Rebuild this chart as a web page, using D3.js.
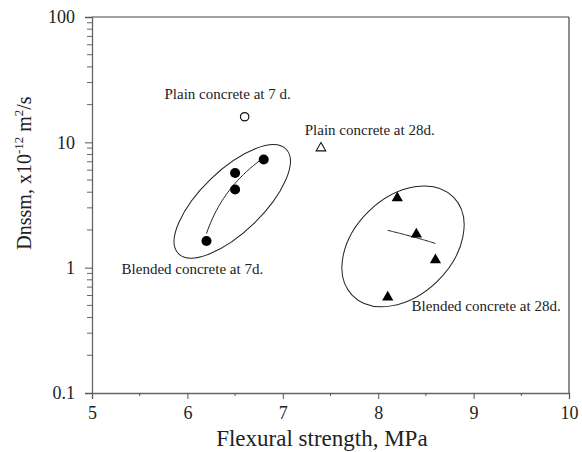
<!DOCTYPE html>
<html>
<head>
<meta charset="utf-8">
<script src="https://cdn.jsdelivr.net/npm/d3@7"></script>
<style>
  body { margin: 0; background: #fff; }
  text { font-family: "Liberation Serif", "Times New Roman", serif; fill: #222; }
</style>
</head>
<body>
<div id="chart"></div>
<script>
// flexural strength (MPa) vs Dnssm (x10^-12 m2/s)
var plain7_x = [6.6],  plain7_y = [16];
var plain28_x = [7.4], plain28_y = [9.0];
var blend7_x = [6.2, 6.5, 6.5, 6.8],  blend7_y = [1.63, 4.2, 5.7, 7.3];
var blend28_x = [8.1, 8.2, 8.4, 8.6], blend28_y = [0.58, 3.6, 1.85, 1.15];

var x_ticks = [5, 6, 7, 8, 9, 10];
var y_ticks = [0.1, 1, 10, 100];

// group outlines: centre in data units
var ellipse_cx = [6.47, 8.26];
var ellipse_cy = [3.38, 1.48];

var labels = ["Plain concrete at 7 d.", "Plain concrete at 28d.", "Blended concrete at 7d.", "Blended concrete at 28d."];
var label_x = [5.76, 7.23, 5.31, 8.35];
var label_y = [22.2, 11.5, 0.89, 0.453];

var width = 582, height = 452,
    margin = {top: 17, right: 13, bottom: 59, left: 92};

var svg = d3.select("#chart").append("svg")
    .attr("width", width)
    .attr("height", height);

var x = d3.scaleLinear().domain([5, 10]).range([margin.left, width - margin.right]);
var y = d3.scaleLog().domain([0.1, 100]).range([height - margin.bottom, margin.top]);

// frame
svg.append("line").attr("x1", x(5)).attr("x2", x(10)).attr("y1", y(100)).attr("y2", y(100))
  .attr("stroke", "#444").attr("stroke-width", 1.2);
svg.append("line").attr("x1", x(10)).attr("x2", x(10)).attr("y1", y(100)).attr("y2", y(0.1))
  .attr("stroke", "#444").attr("stroke-width", 1.2);

// minor ticks
var x_minor = d3.range(5.5, 10, 1);
var y_minor = [];
[0.1, 1, 10].forEach(function(d) { for (var k = 2; k <= 9; k++) y_minor.push(d * k); });

var xAxis = svg.append("g")
  .attr("transform", "translate(0," + y(0.1) + ")")
  .call(d3.axisBottom(x).tickValues(x_ticks).tickSize(6).tickPadding(7).tickFormat(d3.format("d")));
xAxis.selectAll(".minor").data(x_minor)
  .enter().append("line").attr("class", "minor")
  .attr("x1", function(d) { return x(d); }).attr("x2", function(d) { return x(d); })
  .attr("y1", 0).attr("y2", 3).attr("stroke", "#555");

var yAxis = svg.append("g")
  .attr("transform", "translate(" + x(5) + ",0)")
  .call(d3.axisLeft(y).tickValues(y_ticks).tickSize(7).tickPadding(10).tickFormat(function(d) { return d < 1 ? "0.1" : d3.format("d")(d); }));
yAxis.selectAll(".minorY").data(y_minor)
  .enter().append("line").attr("class", "minorY")
  .attr("x1", -5).attr("x2", 0)
  .attr("y1", function(d) { return y(d); }).attr("y2", function(d) { return y(d); })
  .attr("stroke", "#666");

[xAxis, yAxis].forEach(function(g) {
  g.select(".domain").attr("stroke", "#666").attr("stroke-width", 1.3);
  g.selectAll(".tick line").attr("stroke", "#555");
  g.selectAll(".tick text").style("font-family", "Liberation Serif, serif").style("font-size", "18px").attr("fill", "#222");
});

// least-squares lines of the two blended groups
function fit(xs, ys) {
  var mx = d3.mean(xs), my = d3.mean(ys);
  var sxy = d3.sum(xs, function(v, i) { return (v - mx) * (ys[i] - my); });
  var sxx = d3.sum(xs, function(v) { return (v - mx) * (v - mx); });
  var b = sxy / sxx;
  return function(v) { return my + b * (v - mx); };
}
var line = d3.line().x(function(d) { return x(d[0]); }).y(function(d) { return y(d[1]); });
[[blend7_x, blend7_y], [blend28_x, blend28_y]].forEach(function(s) {
  var f = fit(s[0], s[1]);
  var ext = d3.extent(s[0]);
  var pts = d3.range(0, 41).map(function(i) { var v = ext[0] + (ext[1] - ext[0]) * i / 40; return [v, f(v)]; });
  svg.append("path").attr("d", line(pts)).attr("fill", "none").attr("stroke", "#222").attr("stroke-width", 1);
});

// ellipses around groups (pixel radii)
var ell = [{rx: 75, ry: 31, rot: -44}, {rx: 70.5, ry: 49, rot: -44}];
ell.forEach(function(e, i) {
  svg.append("ellipse")
    .attr("transform", "translate(" + x(ellipse_cx[i]) + "," + y(ellipse_cy[i]) + ") rotate(" + e.rot + ")")
    .attr("rx", e.rx).attr("ry", e.ry)
    .attr("fill", "none").attr("stroke", "#222").attr("stroke-width", 1);
});

// markers
var tri = d3.symbol().type(d3.symbolTriangle).size(55);
svg.selectAll(".p7").data(plain7_x).enter().append("circle")
  .attr("cx", function(d) { return x(d); }).attr("cy", function(d, i) { return y(plain7_y[i]); })
  .attr("r", 4.2).attr("fill", "#fff").attr("stroke", "#111").attr("stroke-width", 1.2);
svg.selectAll(".p28").data(plain28_x).enter().append("path")
  .attr("d", d3.symbol().type(d3.symbolTriangle).size(40))
  .attr("transform", function(d, i) { return "translate(" + x(d) + "," + y(plain28_y[i]) + ")"; })
  .attr("fill", "#fff").attr("stroke", "#111").attr("stroke-width", 1.1);
svg.selectAll(".b7").data(blend7_x).enter().append("circle")
  .attr("cx", function(d) { return x(d); }).attr("cy", function(d, i) { return y(blend7_y[i]); })
  .attr("r", 5).attr("fill", "#000");
svg.selectAll(".b28").data(blend28_x).enter().append("path")
  .attr("d", tri)
  .attr("transform", function(d, i) { return "translate(" + x(d) + "," + y(blend28_y[i]) + ")"; })
  .attr("fill", "#000");

// annotations
svg.selectAll(".lab").data(labels).enter().append("text")
  .attr("x", function(d, i) { return x(label_x[i]); })
  .attr("y", function(d, i) { return y(label_y[i]); })
  .style("font-size", "15px")
  .text(function(d) { return d; });

// axis titles
svg.append("text")
  .attr("x", x(7.41)).attr("y", 446)
  .attr("text-anchor", "middle")
  .style("font-size", "23px")
  .text("Flexural strength, MPa");

var yl = svg.append("text")
  .attr("transform", "translate(31," + y(Math.sqrt(10) * 1.8) + ") rotate(-90)")
  .attr("text-anchor", "middle")
  .style("font-size", "20px");
yl.append("tspan").text("Dnssm, x10");
yl.append("tspan").attr("dy", -8).style("font-size", "13px").text("-12");
yl.append("tspan").attr("dy", 8).text(" m");
yl.append("tspan").attr("dy", -8).style("font-size", "13px").text("2");
yl.append("tspan").attr("dy", 8).text("/s");
</script>
</body>
</html>
